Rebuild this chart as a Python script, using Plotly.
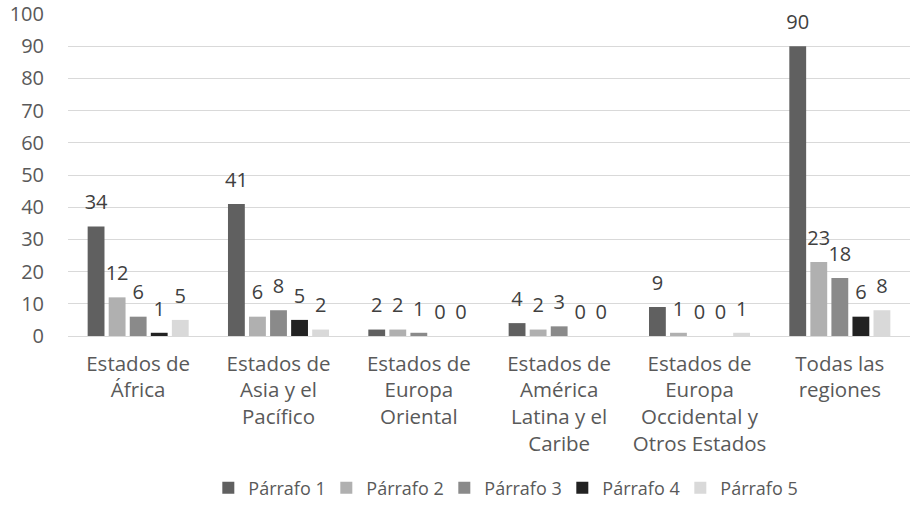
import plotly.graph_objects as go

categories = [
    "Estados de<br>África",
    "Estados de<br>Asia y el<br>Pacífico",
    "Estados de<br>Europa<br>Oriental",
    "Estados de<br>América<br>Latina y el<br>Caribe",
    "Estados de<br>Europa<br>Occidental y<br>Otros Estados",
    "Todas las<br>regiones",
]
series_names = ["Párrafo 1", "Párrafo 2", "Párrafo 3", "Párrafo 4", "Párrafo 5"]
p1 = [34, 41, 2, 4, 9, 90]
p2 = [12, 6, 2, 2, 1, 23]
p3 = [6, 8, 1, 3, 0, 18]
p4 = [1, 5, 0, 0, 0, 6]
p5 = [5, 2, 0, 0, 1, 8]
series_values = [p1, p2, p3, p4, p5]
colors = ["#606060", "#b0b0b0", "#8a8a8a", "#222222", "#d9d9d9"]
y_ticks = list(range(0, 101, 10))

FONT = "Open Sans"
TXT = "#595959"

fig = go.Figure()
for i, (name, vals, col) in enumerate(zip(series_names, series_values, colors)):
    fig.add_trace(go.Bar(
        x=categories, y=vals, name=name, offsetgroup=str(i),
        marker=dict(color=col, line=dict(width=0)),
        hoverinfo="skip",
    ))
for i, (name, vals) in enumerate(zip(series_names, series_values)):
    fig.add_trace(go.Scatter(
        x=categories, y=vals, name=name, offsetgroup=str(i),
        mode="markers+text", showlegend=False,
        marker=dict(size=18, opacity=0),
        text=[str(v) for v in vals], textposition="top center",
        textfont=dict(family=FONT, size=20, color="#404040"),
        cliponaxis=False, hoverinfo="skip",
    ))

fig.update_layout(
    width=912, height=518,
    margin=dict(l=68, r=2, t=14, b=182),
    paper_bgcolor="white", plot_bgcolor="white",
    barmode="group", bargap=0.25, bargroupgap=0.2,
    scattermode="group", scattergap=0.25,
    font=dict(family=FONT, size=20, color=TXT),
    showlegend=True,
    legend=dict(orientation="h", x=0.517, xanchor="center", y=-0.472, yanchor="middle",
                font=dict(family=FONT, size=18, color=TXT), itemwidth=30,
                entrywidth=73, entrywidthmode="pixels",
                traceorder="normal"),
    xaxis=dict(showgrid=False, ticks="", showline=True, linecolor="#d9d9d9", linewidth=1,
               automargin=False, ticklabelstandoff=9,
               tickfont=dict(family=FONT, size=20.5, color=TXT)),
    yaxis=dict(range=[0, 100], tickvals=y_ticks, showgrid=True, gridcolor="#d9d9d9",
               gridwidth=1, zeroline=False, showline=False, ticks="",
               automargin=False, ticklabelstandoff=23, ticklabeloverflow="allow",
               tickfont=dict(family=FONT, size=20, color=TXT)),
)

fig.write_html("out.html", post_script="document.body.style.margin='0px';",
               config={"displayModeBar": False})
